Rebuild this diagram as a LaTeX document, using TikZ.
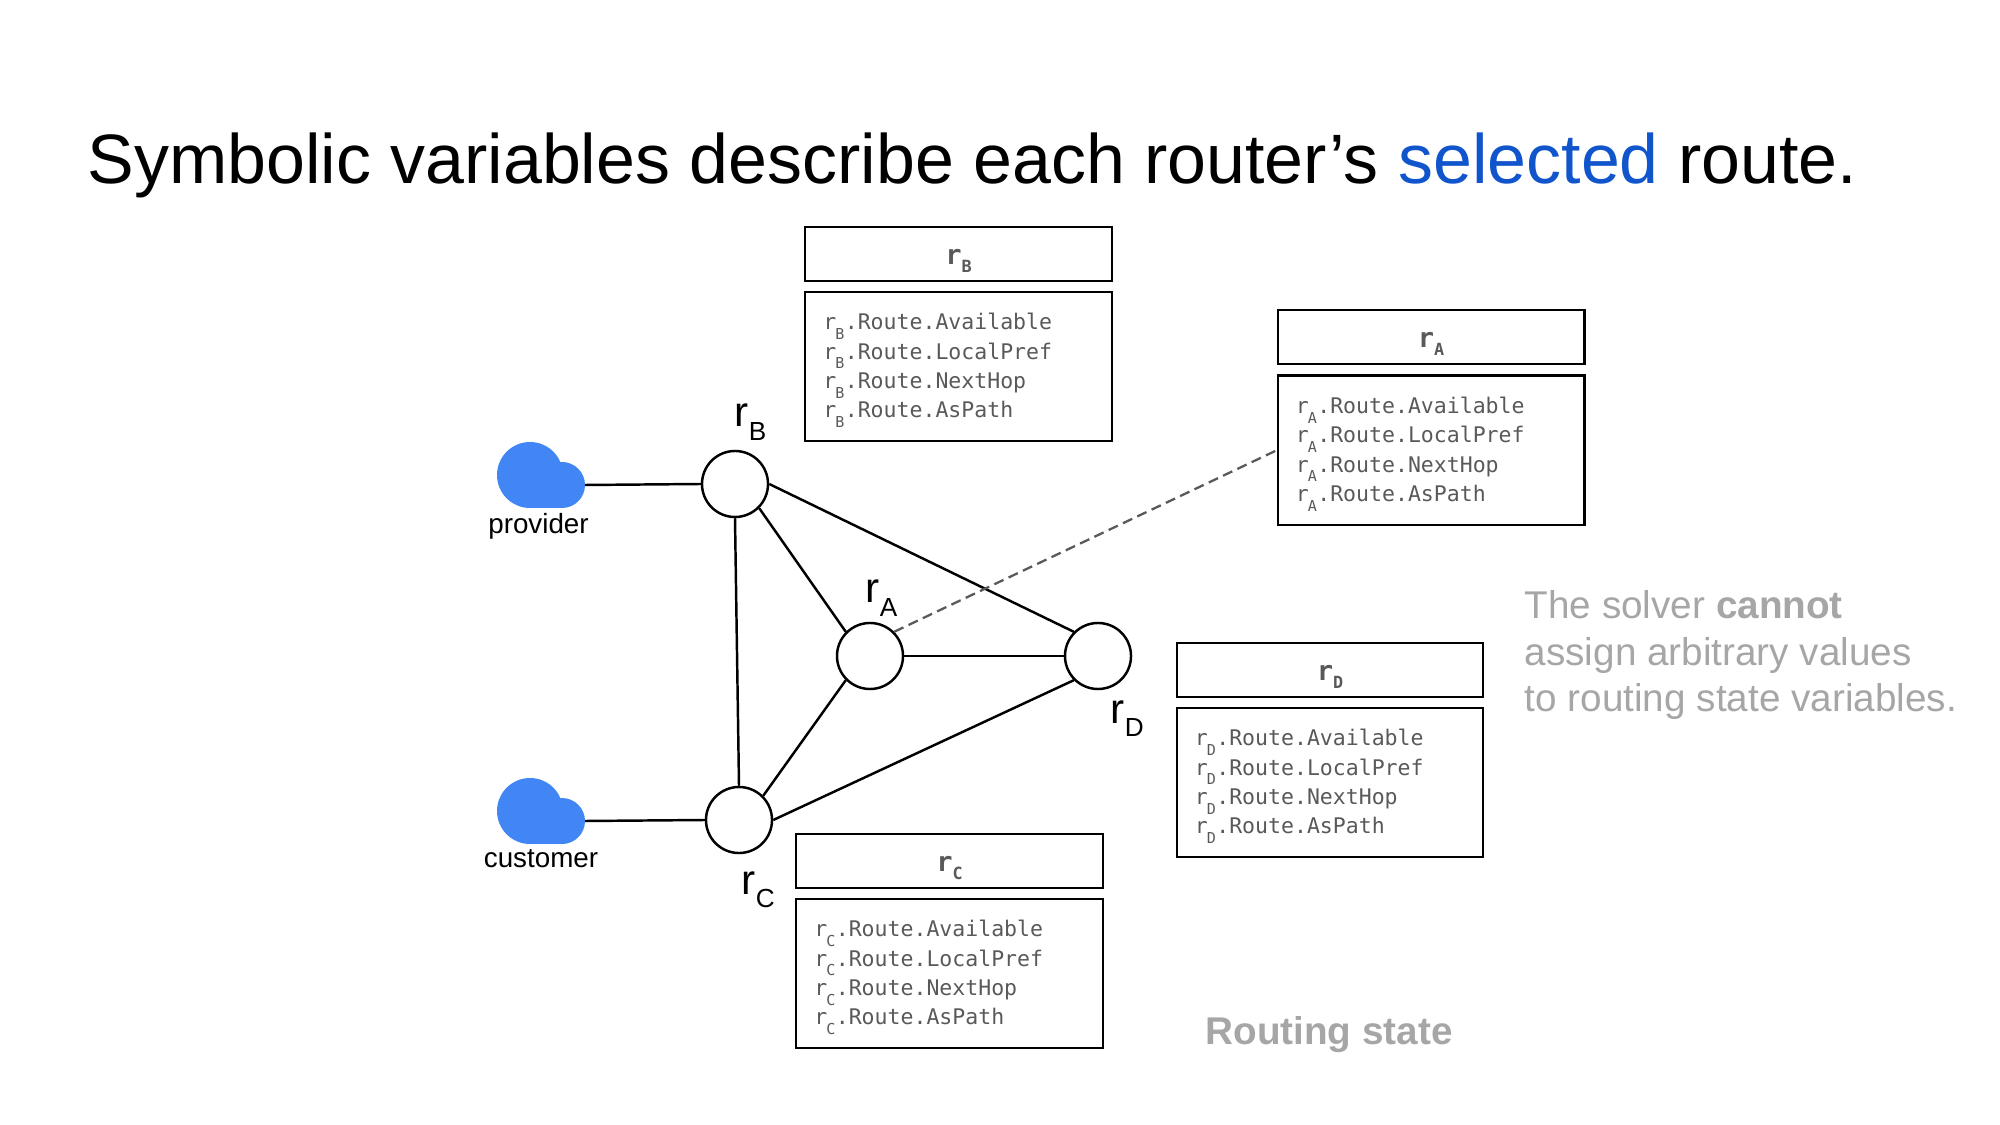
\documentclass[tikz,border=0pt]{standalone}
\usepackage{fontspec}
\setmainfont{Liberation Sans}
\setmonofont{DejaVu Sans Mono}
\usetikzlibrary{positioning}
\definecolor{cloudblue}{HTML}{4285F4}
\definecolor{selblue}{HTML}{1155CC}
\definecolor{notegray}{HTML}{A6A6A6}
\definecolor{monogray}{HTML}{595959}
\newcommand{\rsub}[1]{r\raisebox{-.32em}{\scalebox{.62}{#1}}}
\newcommand{\rvar}[2]{r\hspace{-.05em}\raisebox{-.45em}{\scalebox{.7}{#1}}\hspace{.02em}.Route.#2}

\begin{document}
\begin{tikzpicture}[x=0.01cm,y=-0.01cm,
    router node/.style={circle,draw,fill=white,line width=0.7pt,minimum size=0.66cm,inner sep=0pt},
    router label/.style={anchor=base west,inner sep=0pt,font=\fontsize{12}{14}\selectfont},
    cloud label/.style={anchor=base,inner sep=0pt,font=\fontsize{7.9}{9}\selectfont},
    head box/.style={draw,minimum width=3.06cm,minimum height=0.54cm,inner sep=0pt,text=monogray,font=\ttfamily\bfseries\fontsize{7.7}{9}\selectfont},
    body box/.style={draw,minimum width=3.06cm,minimum height=1.49cm,inner xsep=0.18cm,inner ysep=0pt,text width=2.7cm,text=monogray,align=left,font=\ttfamily\fontsize{6.12}{8.35}\selectfont},
    note/.style={anchor=base west,inner sep=0pt,text=notegray,font=\fontsize{11}{13}\selectfont},
    link/.style={line width=0.7pt}]

    \useasboundingbox (0,0) rectangle (2000,1125);

    \node[anchor=base west,inner sep=0pt,font=\fontsize{19.88}{24}\selectfont] (title) at (87,183.5)
        {Symbolic variables describe each router’s \textcolor{selblue}{selected} route.};

    % routers
    \node[router node] (rB) at (735,484) {};
    \node[router node] (rA) at (870,656) {};
    \node[router node] (rD) at (1098,656) {};
    \node[router node] (rC) at (739,820) {};

    \node[router label] (rBname) at (734,427) {\rsub{B}};
    \node[router label] (rAname) at (865,603) {\rsub{A}};
    \node[router label] (rDname) at (1110,723) {\rsub{D}};
    \node[router label] (rCname) at (741,894) {\rsub{C}};

    % clouds
    \foreach \cname/\ytop/\xlabel/\ylabel in {provider/442/538.5/534,customer/778/541/867}{
        \fill[cloudblue] (530,\ytop+33) circle (33);
        \fill[cloudblue] (562,\ytop+43) circle (23);
        \fill[cloudblue] (530,\ytop+21) rectangle (562,\ytop+66);
        \coordinate (\cname) at (585,\ytop+43);
        \node[cloud label] (\cname label) at (\xlabel,\ylabel) {\cname};
    }

    \draw[link] (provider) -- (rB.west);
    \draw[link] (customer) -- (rC.west);
    \draw[link] (rB.south) -- (rC.north);
    \draw[link] (rB.south east) -- (rA.north west);
    \draw[link] (rB.east) -- (rD.north west);
    \draw[link] (rA.south west) -- (rC.north east);
    \draw[link] (rA.east) -- (rD.west);
    \draw[link] (rC.east) -- (rD.south west);

    % routing state
    \foreach \rname/\xbox/\ybox/\boxline in {B/958.5/254/0.6pt,A/1431/337/0.8pt,D/1330/670/0.6pt,C/949.5/861/0.6pt}{
        \node[head box,line width=\boxline] (head\rname) at (\xbox,\ybox) {\smash{\raisebox{-2.9pt}{\rsub{\rname}}}};
        \node[body box,line width=\boxline,below=0.09cm of head\rname] (body\rname)
            {\rvar{\rname}{Available}\\\rvar{\rname}{LocalPref}\\\rvar{\rname}{NextHop}\\\rvar{\rname}{AsPath}\vspace{-2.2pt}};
    }

    \draw[dash pattern=on 2.9pt off 1.6pt,line width=0.65pt,draw=monogray] (rA.north east) -- (bodyA.west);

    \node[note] (note1) at (1524,619) {The solver \textbf{cannot}};
    \node[note] (note2) at (1524,665.5) {assign arbitrary values};
    \node[note] (note3) at (1524,711.5) {to routing state variables.};
    \node[note,anchor=base] (state) at (1329,1044) {\textbf{Routing state}};

\end{tikzpicture}
\end{document}
